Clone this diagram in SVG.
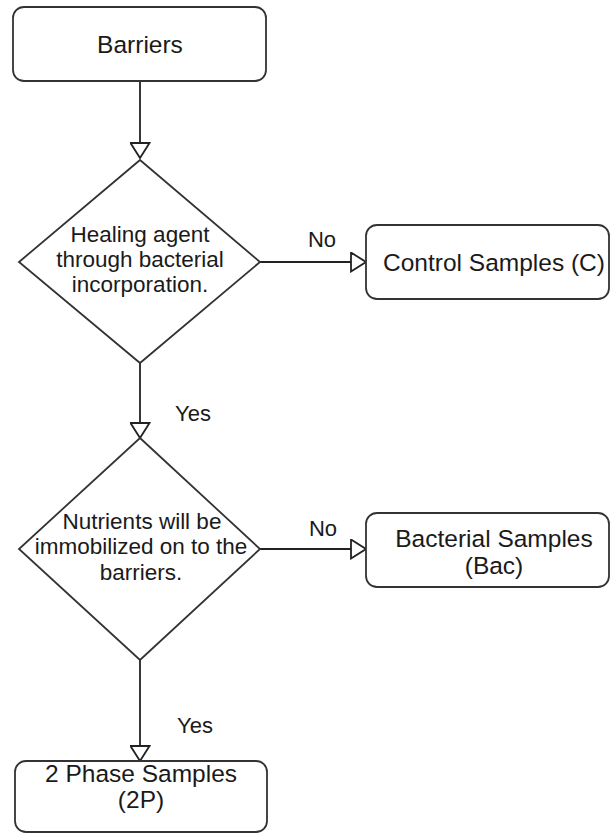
<svg xmlns="http://www.w3.org/2000/svg" width="611" height="834" viewBox="0 0 611 834">
<style>
.box{fill:#fff;stroke:#333;stroke-width:1.8}
.dia{fill:#fff;stroke:#333;stroke-width:1.8}
.edge{fill:none;stroke:#222;stroke-width:1.8}
.bt{font-family:"Liberation Sans",Arial,sans-serif;font-size:24.5px;fill:#1a1a1a;text-anchor:middle}
.dt{font-family:"Liberation Sans",Arial,sans-serif;font-size:22.5px;fill:#1a1a1a;text-anchor:middle}
.lbl{font-family:"Liberation Sans",Arial,sans-serif;font-size:22px;fill:#1a1a1a;text-anchor:middle}
</style>
<defs>
<marker id="arr" viewBox="0 0 17 21" refX="16" refY="10.5" markerWidth="17" markerHeight="21" markerUnits="userSpaceOnUse" orient="auto">
<path d="M1,1 L16,10.5 L1,20 Z" fill="#fff" stroke="#222" stroke-width="1.8"/>
</marker>
</defs>
<rect width="611" height="834" fill="#fff"/>
<g id="connectors">
<line class="edge" x1="140" y1="81" x2="140" y2="158" marker-end="url(#arr)"/>
<line class="edge" x1="260" y1="262" x2="366" y2="262" marker-end="url(#arr)"/>
<text class="lbl" x="322" y="247">No</text>
<line class="edge" x1="140" y1="363" x2="140" y2="438" marker-end="url(#arr)"/>
<text class="lbl" x="193" y="421">Yes</text>
<line class="edge" x1="260" y1="549" x2="366" y2="549" marker-end="url(#arr)"/>
<text class="lbl" x="323" y="536">No</text>
<line class="edge" x1="140" y1="660" x2="140" y2="761" marker-end="url(#arr)"/>
<text class="lbl" x="195" y="733">Yes</text>
</g>
<g id="barriers">
<rect class="box" x="13" y="7" width="253" height="74" rx="11"/>
<text class="bt" x="140" y="53">Barriers</text>
</g>
<g id="decision1">
<polygon class="dia" points="140,160 260,262 140,363 19,262"/>
<text class="dt" x="140" y="242">Healing agent</text>
<text class="dt" x="140" y="267">through bacterial</text>
<text class="dt" x="140" y="292">incorporation.</text>
</g>
<g id="control">
<rect class="box" x="366" y="225" width="243" height="74" rx="11"/>
<text class="bt" x="494" y="271">Control Samples (C)</text>
</g>
<g id="decision2">
<polygon class="dia" points="140,438 260,549 140,660 19,549"/>
<text class="dt" x="142" y="529">Nutrients will be</text>
<text class="dt" x="141" y="554">immobilized on to the</text>
<text class="dt" x="141" y="580">barriers.</text>
</g>
<g id="bacterial">
<rect class="box" x="366" y="513" width="243" height="74" rx="11"/>
<text class="bt" x="494" y="547">Bacterial Samples</text>
<text class="bt" x="494" y="574">(Bac)</text>
</g>
<g id="twophase">
<rect class="box" x="15" y="761" width="252" height="71" rx="11"/>
<text class="bt" x="141" y="782">2 Phase Samples</text>
<text class="bt" x="141" y="808">(2P)</text>
</g>
</svg>
